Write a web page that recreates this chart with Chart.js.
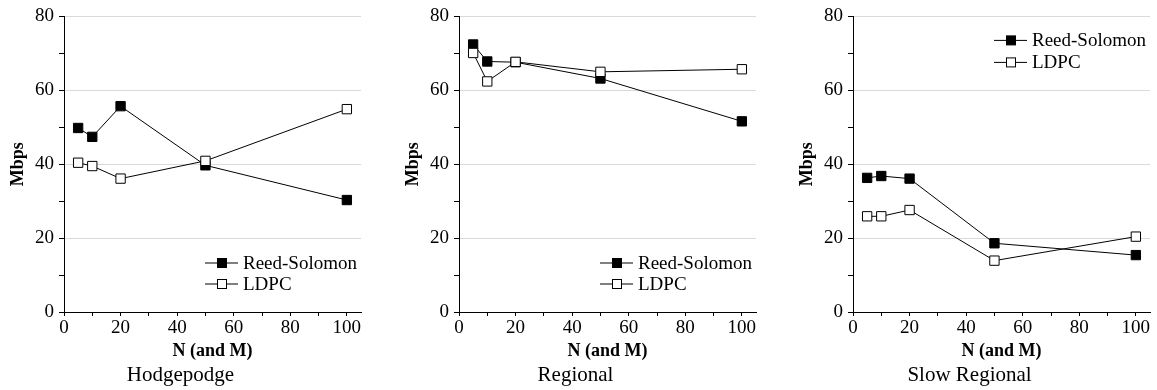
<!DOCTYPE html>
<html>
<head>
<meta charset="utf-8">
<script src="https://cdn.jsdelivr.net/npm/chart.js@4"></script>
<style>
  body { margin: 0; background: #fff; }
  #wrap { position: relative; width: 1157px; height: 390px; }
  canvas { position: absolute; top: 0; }
</style>
</head>
<body>
<div id="wrap">
  <canvas id="c1" width="385" height="390" style="left:0px"></canvas>
  <canvas id="c2" width="385" height="390" style="left:395px"></canvas>
  <canvas id="c3" width="385" height="390" style="left:789px"></canvas>
</div>
<script>
// N (and M) values
const nValues = [5, 10, 20, 50, 100];

// Mbps per panel
const hodgepodgeRS   = [49.8, 47.4, 55.7, 39.7, 30.3];
const hodgepodgeLDPC = [40.4, 39.5, 36.1, 40.9, 54.9];
const regionalRS     = [72.4, 67.8, 67.6, 63.2, 51.6];
const regionalLDPC   = [70.1, 62.4, 67.7, 65.0, 65.7];
const slowRS         = [36.3, 36.8, 36.1, 18.6, 15.4];
const slowLDPC       = [25.9, 25.9, 27.6, 13.9, 20.4];

const seriesNames = ['Reed-Solomon', 'LDPC'];
const panelTitles = ['Hodgepodge', 'Regional', 'Slow Regional'];

const xTickLabels = [0, 20, 40, 60, 80, 100];
const yTickLabels = [0, 20, 40, 60, 80];

const FONT = "'Liberation Serif', 'Times New Roman', serif";

// legend drawn inside the plot area
const insideLegend = {
    id: 'insideLegend',
    afterDatasetsDraw(chart, args, opts) {
        const { ctx, chartArea } = chart;
        const textX = chartArea.right - 118;
        const rows = opts.place === 'top'
            ? [chartArea.top + 24, chartArea.top + 46]
            : [chartArea.bottom - 49, chartArea.bottom - 28];
        ctx.save();
        chart.data.datasets.forEach((ds, i) => {
            const y = rows[i];
            ctx.strokeStyle = '#000';
            ctx.lineWidth = 1;
            ctx.beginPath();
            ctx.moveTo(textX - 38, y);
            ctx.lineTo(textX - 5, y);
            ctx.stroke();
            const s = 4.5;
            const mx = textX - 21;
            ctx.fillStyle = ds.pointBackgroundColor;
            ctx.fillRect(mx - s, y - s, 2 * s, 2 * s);
            ctx.strokeRect(mx - s, y - s, 2 * s, 2 * s);
            ctx.fillStyle = '#000';
            ctx.font = '19px ' + FONT;
            ctx.textAlign = 'left';
            ctx.textBaseline = 'middle';
            ctx.fillText(ds.label, textX, y + 1);
        });
        ctx.restore();
    }
};

function makePanel(id, title, rs, ldpc, legendPlace) {
    const mk = (label, vals, fill, order) => ({
        label: label,
        data: nValues.map((n, i) => ({ x: n, y: vals[i] })),
        borderColor: '#000',
        borderWidth: 1,
        pointStyle: 'rect',
        pointRadius: 6.6,
        pointHoverRadius: 6.6,
        pointBackgroundColor: fill,
        pointBorderColor: '#000',
        pointBorderWidth: 1,
        order: order,
        tension: 0
    });

    new Chart(document.getElementById(id), {
        type: 'line',
        data: {
            datasets: [
                mk(seriesNames[0], rs, '#000', 2),
                mk(seriesNames[1], ldpc, '#fff', 1)
            ]
        },
        plugins: [insideLegend],
        options: {
            responsive: false,
            animation: false,
            layout: { padding: { left: 0, right: 24, top: 16, bottom: 0 } },
            plugins: {
                legend: { display: false },
                tooltip: { enabled: false },
                insideLegend: { place: legendPlace },
                title: {
                    display: true,
                    text: title,
                    position: 'bottom',
                    color: '#000',
                    font: { family: FONT, size: 21, weight: 'normal' },
                    padding: { top: 0, bottom: 2 }
                }
            },
            scales: {
                x: {
                    type: 'linear',
                    min: 0,
                    max: 105,
                    afterBuildTicks: axis => {
                        const t = [];
                        for (let v = 0; v <= 100; v += 10) t.push({ value: v });
                        axis.ticks = t;
                    },
                    afterFit: scale => { scale.height = 50.8; },
                    ticks: {
                        color: '#000',
                        padding: 1,
                        maxRotation: 0,
                        autoSkip: false,
                        font: { family: FONT, size: 19 },
                        callback: v => xTickLabels.includes(v) ? v : ''
                    },
                    grid: {
                        drawOnChartArea: false,
                        drawTicks: true,
                        tickLength: 4,
                        tickColor: '#000'
                    },
                    border: { display: true, color: '#000', width: 1 },
                    title: {
                        display: true,
                        text: 'N (and M)',
                        color: '#000',
                        font: { family: FONT, size: 18, weight: 'bold' },
                        padding: { top: 0, bottom: 1 }
                    }
                },
                y: {
                    min: 0,
                    max: 80,
                    afterFit: scale => { scale.width = 64; },
                    ticks: {
                        stepSize: 10,
                        color: '#000',
                        padding: 5,
                        font: { family: FONT, size: 19 },
                        callback: v => yTickLabels.includes(v) ? v : ''
                    },
                    grid: {
                        color: c => (c.tick && yTickLabels.includes(c.tick.value)) ? '#dadada' : 'rgba(0,0,0,0)',
                        lineWidth: 1,
                        drawTicks: true,
                        tickLength: 5,
                        tickColor: '#000'
                    },
                    border: { display: true, color: '#000', width: 1 },
                    title: {
                        display: true,
                        text: 'Mbps',
                        color: '#000',
                        font: { family: FONT, size: 18, weight: 'bold' },
                        padding: { top: 8, bottom: 0 }
                    }
                }
            }
        }
    });
}

document.addEventListener('DOMContentLoaded', () => {
    makePanel('c1', panelTitles[0], hodgepodgeRS, hodgepodgeLDPC, 'bottom');
    makePanel('c2', panelTitles[1], regionalRS, regionalLDPC, 'bottom');
    makePanel('c3', panelTitles[2], slowRS, slowLDPC, 'top');
});
</script>
</body>
</html>
